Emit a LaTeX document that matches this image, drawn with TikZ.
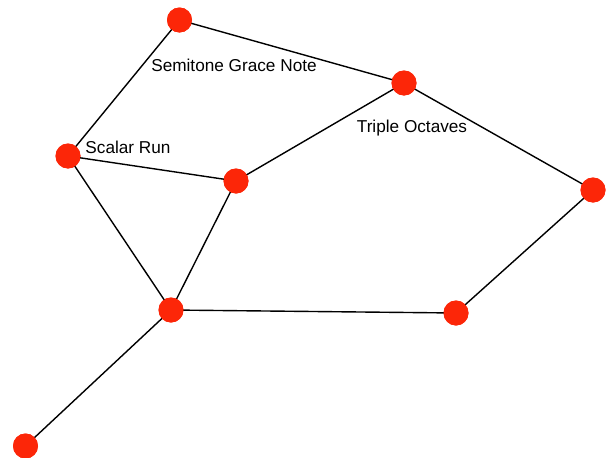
\documentclass[tikz,border=0pt]{standalone}
\usepackage{fontspec}
\setmainfont{Liberation Sans}
\definecolor{dotred}{RGB}{252,38,8}
\tikzset{
  vertex/.style={circle, fill=dotred, draw=none, minimum size=25pt, inner sep=0pt},
  edge/.style={draw=black, line width=1.4pt},
  lbl/.style={font=\fontsize{17.2}{20}\selectfont, anchor=base, inner sep=0pt}
}
\begin{document}
\begin{tikzpicture}[x=1pt, y=-1pt]
  \useasboundingbox (0,0) rectangle (606,458);
  % vertices
  \node[vertex] (a) at (179.5,20) {};
  \node[vertex] (b) at (404,83) {};
  \node[vertex] (c) at (68,156) {};
  \node[vertex] (d) at (236,181) {};
  \node[vertex] (e) at (593,190) {};
  \node[vertex] (f) at (171,310) {};
  \node[vertex] (g) at (456,313) {};
  \node[vertex] (h) at (25.5,446) {};
  % edges between vertex centres
  \path[edge] (a.center) -- (b.center);
  \path[edge] (a.center) -- (c.center);
  \path[edge] (b.center) -- (d.center);
  \path[edge] (b.center) -- (e.center);
  \path[edge] (c.center) -- (d.center);
  \path[edge] (c.center) -- (f.center);
  \path[edge] (d.center) -- (f.center);
  \path[edge] (f.center) -- (g.center);
  \path[edge] (g.center) -- (e.center);
  \path[edge] (f.center) -- (h.center);
  % redraw vertices above the edges
  \foreach \n in {a,b,c,d,e,f,g,h}
    \fill[dotred] (\n) circle (12.5pt);
  % labels
  \node[lbl] (l1) at (234,71) {Semitone Grace Note};
  \node[lbl] (l2) at (128,153) {Scalar Run};
  \node[lbl] (l3) at (412,132.5) {Triple Octaves};
\end{tikzpicture}
\end{document}
